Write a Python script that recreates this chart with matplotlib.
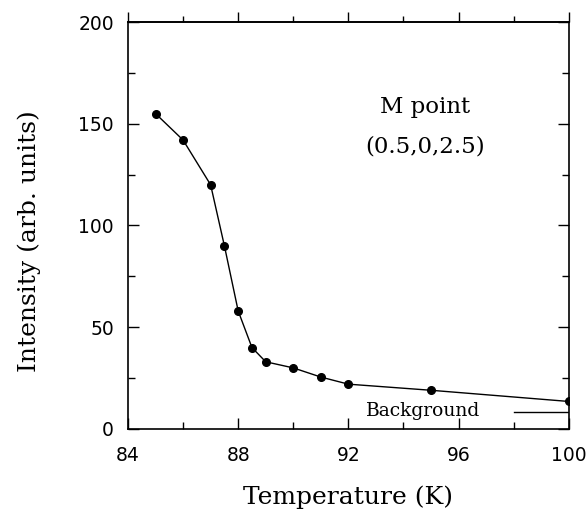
import matplotlib.pyplot as plt
from matplotlib.ticker import MultipleLocator

temperature = [85, 86, 87, 87.5, 88, 88.5, 89, 90, 91, 92, 95, 100]
intensity = [155, 142, 120, 90, 58, 40, 33, 30, 25.5, 22, 19, 13.5]
background_x = [98, 100]
background_y = [8.5, 8.5]

serif = ["DejaVu Serif"]
sans = ["DejaVu Sans"]

fig = plt.figure(figsize=(5.87, 5.25), dpi=100)
ax = fig.add_axes([0.218, 0.183, 0.751, 0.775])

ax.plot(temperature, intensity, color="black", lw=1.0, marker="o", ms=5.5)
ax.plot(background_x, background_y, color="black", lw=1.0)
ax.text(94.7, 8.8, "Background", family=serif, fontsize=13.5, ha="center", va="center")
ax.text(94.8, 158, "M point", family=serif, fontsize=16.5, ha="center", va="center")
ax.text(94.8, 139, "(0.5,0,2.5)", family=serif, fontsize=16.5, ha="center", va="center")

ax.set_xlim(84, 100)
ax.set_ylim(0, 200)
ax.xaxis.set_major_locator(MultipleLocator(4))
ax.xaxis.set_minor_locator(MultipleLocator(2))
ax.yaxis.set_major_locator(MultipleLocator(50))
ax.yaxis.set_minor_locator(MultipleLocator(25))
ax.tick_params(which="both", direction="in", right=True, top=False, width=1.0)
ax.tick_params(axis="x", pad=12)
ax.tick_params(axis="y", pad=10)
ax.tick_params(which="major", length=8)
ax.tick_params(which="minor", length=5)
for lab in ax.get_xticklabels() + ax.get_yticklabels():
    lab.set_family(sans)
    lab.set_fontsize(13.5)

top = ax.secondary_xaxis("top")
top.xaxis.set_major_locator(MultipleLocator(4))
top.xaxis.set_minor_locator(MultipleLocator(2))
top.tick_params(which="both", direction="out", labeltop=False, width=1.0)
top.tick_params(which="major", length=7)
top.tick_params(which="minor", length=4)
top.spines["top"].set_linewidth(1.2)

for s in ax.spines.values():
    s.set_linewidth(1.2)

ax.set_xlabel("Temperature (K)", family=serif, fontsize=18, labelpad=15)
ax.set_ylabel("Intensity (arb. units)", family=serif, fontsize=18)
ax.yaxis.set_label_coords(-0.197, 0.462)

fig.savefig("out.png", dpi=100)
